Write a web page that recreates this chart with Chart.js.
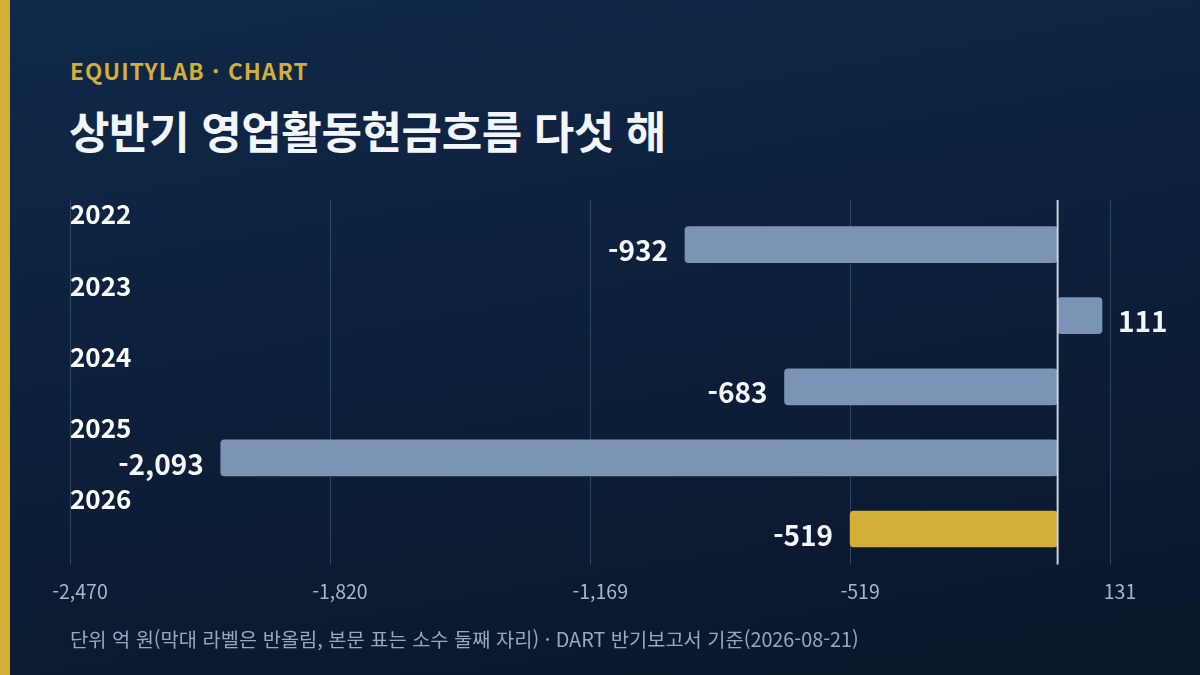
<!DOCTYPE html>
<html lang="ko">
<head>
<meta charset="utf-8">
<script src="https://cdn.jsdelivr.net/npm/chart.js@4.4.1/dist/chart.umd.min.js"></script>
<style>
  html, body { margin: 0; padding: 0; }
  body {
    width: 1200px; height: 675px; overflow: hidden; position: relative;
    background: linear-gradient(170deg, #10294a 0%, #0c1e38 55%, #0a1629 100%);
    font-family: "Noto Sans CJK KR", "Noto Sans", sans-serif;
  }
  .strip { position: absolute; left: 0; top: 0; width: 10px; height: 675px; background: #d4af37; }
  .kicker { position: absolute; left: 70px; top: 54px; font-size: 22.5px; font-weight: 700; color: #d4af37; letter-spacing: 1.1px; }
  .title { position: absolute; left: 69px; top: 98px; font-size: 44px; font-weight: 700; color: #f2f5fa; letter-spacing: -0.4px; }
  .note { position: absolute; left: 70px; top: 624px; font-size: 19.8px; color: #9aa7bd; }
  #wrap { position: absolute; left: 0; top: 0; width: 1200px; height: 675px; }
</style>
</head>
<body>
<div class="strip"></div>
<div class="kicker">EQUITYLAB · CHART</div>
<div class="title">상반기 영업활동현금흐름 다섯 해</div>
<div id="wrap"><canvas id="cfChart"></canvas></div>
<div class="note">단위 억 원(막대 라벨은 반올림, 본문 표는 소수 둘째 자리) · DART 반기보고서 기준(2026-08-21)</div>

<script>
// data
const years = ['2022', '2023', '2024', '2025', '2026'];
const cashFlow = [-932, 111, -683, -2093, -519];
const xTicks = [-2470, -1820, -1169, -519, 131];

const barBlue = '#7b93b4';
const barGold = '#d4af37';
const FONT = '"Noto Sans CJK KR", "Noto Sans", sans-serif';

const fmt = v => Math.round(v).toLocaleString('en-US');

// grid lines, zero line, year labels and value labels
const overlay = {
  id: 'overlay',
  beforeDatasetsDraw(chart) {
    const { ctx, chartArea, scales: { x } } = chart;
    ctx.save();
    ctx.strokeStyle = 'rgba(90, 120, 160, 0.45)';
    ctx.lineWidth = 1;
    x.ticks.forEach(t => {
      const px = Math.round(x.getPixelForValue(t.value)) + 0.5;
      ctx.beginPath();
      ctx.moveTo(px, 200);
      ctx.lineTo(px, chartArea.bottom);
      ctx.stroke();
    });
    ctx.restore();
  },
  afterDatasetsDraw(chart) {
    const { ctx, chartArea, scales: { x } } = chart;
    const meta = chart.getDatasetMeta(0);
    ctx.save();

    const zx = x.getPixelForValue(0);
    ctx.strokeStyle = '#c9d2de';
    ctx.lineWidth = 2;
    ctx.beginPath();
    ctx.moveTo(zx, 200);
    ctx.lineTo(zx, chartArea.bottom);
    ctx.stroke();

    ctx.textBaseline = 'middle';
    meta.data.forEach((bar, i) => {
      ctx.fillStyle = '#ffffff';
      ctx.font = '700 26px ' + FONT;
      ctx.textAlign = 'left';
      ctx.fillText(years[i], chartArea.left, bar.y - 30);

      const v = cashFlow[i];
      ctx.font = '700 28px ' + FONT;
      ctx.fillStyle = '#f4f6fa';
      if (v < 0) {
        ctx.textAlign = 'right';
        ctx.fillText(fmt(v), bar.x - 17, bar.y + 6);
      } else {
        ctx.textAlign = 'left';
        ctx.fillText(fmt(v), bar.x + 16, bar.y + 6);
      }
    });
    ctx.restore();
  }
};

new Chart(document.getElementById('cfChart'), {
  type: 'bar',
  data: {
    labels: years,
    datasets: [{
      data: cashFlow,
      backgroundColor: years.map((y, i) => i === years.length - 1 ? barGold : barBlue),
      borderRadius: 4,
      borderSkipped: false,
      barThickness: 36
    }]
  },
  options: {
    indexAxis: 'y',
    responsive: true,
    maintainAspectRatio: false,
    animation: false,
    layout: { padding: { left: 70, right: 90, top: 209, bottom: 57 } },
    scales: {
      x: {
        min: -2470,
        max: 131,
        afterBuildTicks: scale => { scale.ticks = xTicks.map(v => ({ value: v })); },
        grid: { display: false, drawTicks: false },
        border: { display: false },
        ticks: {
          autoSkip: false,
          maxRotation: 0,
          padding: 15,
          labelOffset: 10,
          color: '#a9b5c8',
          font: { family: FONT, size: 19.5 },
          callback: v => fmt(v)
        }
      },
      y: {
        display: false,
        grid: { display: false }
      }
    },
    plugins: {
      legend: { display: false },
      tooltip: { enabled: false }
    }
  },
  plugins: [overlay]
});
</script>
</body>
</html>
